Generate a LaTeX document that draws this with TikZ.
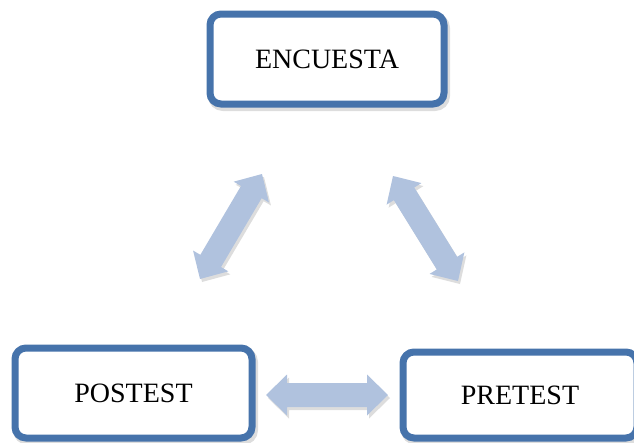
\documentclass[tikz,border=0pt]{standalone}
\usepackage{fontspec}
\setmainfont{Liberation Serif}
\usetikzlibrary{calc}
\definecolor{boxblue}{HTML}{4673AB}
\definecolor{arrowblue}{HTML}{B0C2DE}
\tikzset{
  box/.style={draw=boxblue, line width=7pt, rounded corners=11pt, fill=white,
    inner sep=0pt, font=\fontsize{28}{33}\selectfont,
    preaction={draw=black!60, opacity=0.22, line width=8pt,
      transform canvas={shift={(2pt,-3pt)}}}},
  arrowshape/.style={fill=arrowblue,
    preaction={fill=black!60, opacity=0.22, transform canvas={shift={(2pt,-3pt)}}}},
}
\newcommand\blockarrow[2]{%
  \coordinate (h1) at ($(#1)!21pt!(#2)$);
  \coordinate (h2) at ($(#2)!21pt!(#1)$);
  \fill[arrowshape] (#1) -- ($(h1)!20.5pt!90:(#2)$) -- ($(h1)!12pt!90:(#2)$)
    -- ($(h2)!12pt!-90:(#1)$) -- ($(h2)!20.5pt!-90:(#1)$) -- (#2)
    -- ($(h2)!20.5pt!90:(#1)$) -- ($(h2)!12pt!90:(#1)$)
    -- ($(h1)!12pt!-90:(#2)$) -- ($(h1)!20.5pt!-90:(#2)$) -- cycle;}
\begin{document}
\begin{tikzpicture}[x=1pt,y=-1pt]
\useasboundingbox (0,0) rectangle (634,442);
\node[box, minimum width=234pt, minimum height=90pt] (enc) at (327,59) {ENCUESTA};
\node[box, minimum width=237pt, minimum height=90pt] (post) at (133.5,393) {POSTEST};
\node[box, minimum width=234pt, minimum height=86pt] (pre) at (520,395) {PRETEST};
\coordinate (la) at (262,174);
\coordinate (lb) at (200,279);
\coordinate (ra) at (393,176);
\coordinate (rb) at (458,281);
\coordinate (ba) at (266,395);
\coordinate (bb) at (388,395);
\blockarrow{la}{lb}
\blockarrow{ra}{rb}
\blockarrow{ba}{bb}
\end{tikzpicture}
\end{document}
